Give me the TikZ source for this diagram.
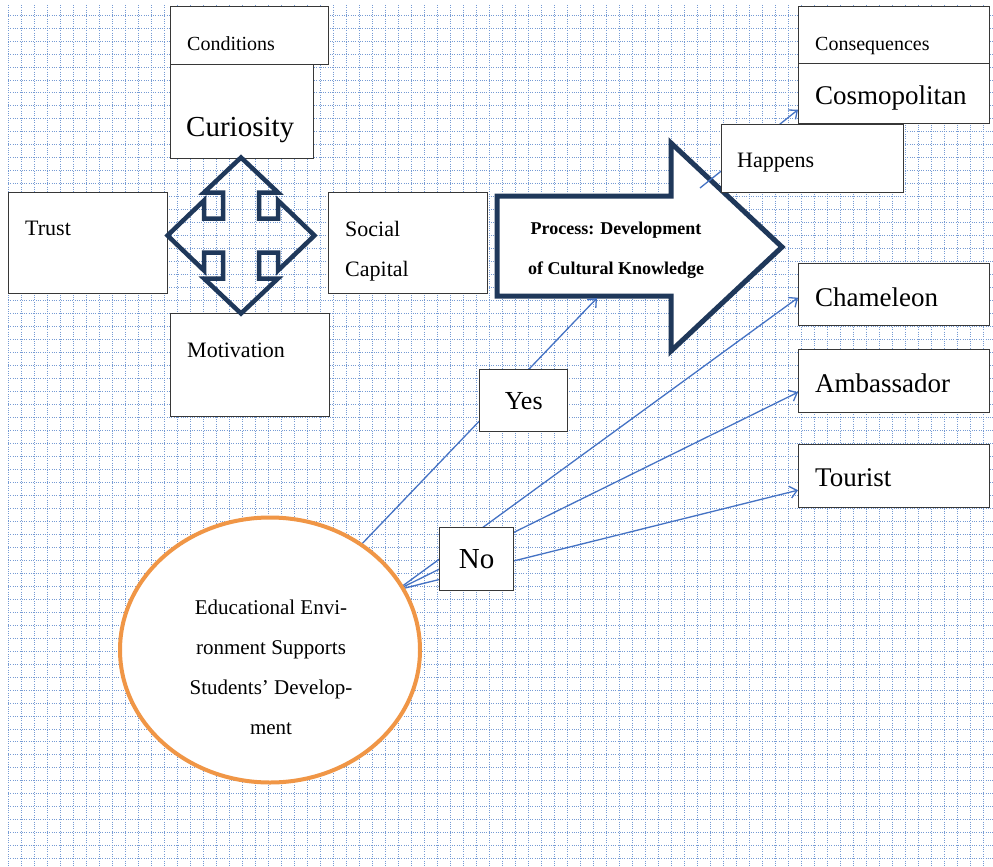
\documentclass[tikz,border=0pt]{standalone}
\usepackage{fontspec}
\setmainfont{Liberation Serif}
\usepackage{xcolor}
\definecolor{gridblue}{RGB}{118,155,212}
\definecolor{linkblue}{RGB}{68,114,196}
\definecolor{arrownavy}{RGB}{31,56,90}
\definecolor{envorange}{RGB}{240,150,70}
\definecolor{boxgray}{RGB}{55,55,55}
\usetikzlibrary{arrows.meta, positioning, shapes.geometric}

\tikzset{
  gridline/.style={gridblue, line width=0.8pt, dash pattern=on 0.9pt off 1.4pt},
  box/.style={draw=boxgray, line width=1.4pt, fill=white, rectangle, inner sep=0pt, anchor=north west},
  smalltxt/.style={anchor=west, inner sep=0pt, font=\fontsize{20}{24}\selectfont},
  midtxt/.style={anchor=west, inner sep=0pt, font=\fontsize{22}{40}\selectfont},
  bigtxt/.style={anchor=west, inner sep=0pt, font=\fontsize{27}{32}\selectfont},
  link/.style={linkblue, line width=1.3pt, -{Straight Barb[length=7pt,width=12pt]}},
  quadarrow/.style={draw=arrownavy, line width=4.5pt, line join=miter},
  bigarrow/.style={draw=arrownavy, line width=5pt, fill=white, line join=miter},
}

\begin{document}
\begin{tikzpicture}[x=1pt, y=-1pt]
  \useasboundingbox (0,0) rectangle (993,867);
  \fill[white] (0,0) rectangle (993,867);
  % grid paper
  \foreach \i in {0,...,75}
    \draw[gridline] ({8.3+13*\i},5) -- ({8.3+13*\i},867);
  \foreach \j in {0,...,65}
    \draw[gridline] (8,{15+12.98*\j}) -- (993,{15+12.98*\j});

  % conditions
  \node[box, minimum width=158pt, minimum height=58pt] (conditions) at (170,6) {};
  \node[box, minimum width=143pt, minimum height=94pt] (curiosity) at (170,64) {};
  \node[box, minimum width=159pt, minimum height=101pt] (trust) at (8,192) {};
  \node[box, minimum width=159pt, minimum height=101pt] (social) at (328,192) {};
  \node[box, minimum width=159pt, minimum height=103pt] (motivation) at (170,313) {};
  \node[smalltxt] (conditions-t) at (187,44) {Conditions};
  \node[bigtxt, font=\fontsize{29}{34}\selectfont] (curiosity-t) at (186,130) {Curiosity};
  \node[midtxt] (trust-t) at (25,228) {Trust};
  \node[midtxt, align=left] (social-t) at (345,251) {Social\\Capital};
  \node[midtxt] (motivation-t) at (187,350) {Motivation};

  \draw[quadarrow, shift={(241,235.5)}]
    (0,-78) -- (37,-43) -- (18,-43) -- (18,-17) -- (37,-17) -- (37,-35)
    -- (73.5,0) -- (37,35) -- (37,17) -- (18,17) -- (18,43) -- (37,43)
    -- (0,78) -- (-37,43) -- (-18,43) -- (-18,17) -- (-37,17) -- (-37,35)
    -- (-73.5,0) -- (-37,-35) -- (-37,-17) -- (-18,-17) -- (-18,-43) -- (-37,-43) -- cycle;

  % process
  \draw[bigarrow] (497,196) -- (671,196) -- (671,143) -- (782,247)
    -- (671,351) -- (671,296) -- (497,296) -- cycle;
  \node[font=\bfseries\fontsize{18}{40}\selectfont, align=center] (process-t) at (616,250)
    {Process: Development\\of Cultural Knowledge};

  % consequences
  \node[box, minimum width=191pt, minimum height=57pt] (consequences) at (798,6) {};
  \node[box, minimum width=191pt, minimum height=60pt] (cosmo) at (798,63) {};
  \node[box, minimum width=191pt, minimum height=62pt] (chameleon) at (798,263) {};
  \node[box, minimum width=191pt, minimum height=63pt] (ambassador) at (798,349) {};
  \node[box, minimum width=191pt, minimum height=63pt] (tourist) at (798,444) {};
  \node[smalltxt] (consequences-t) at (815,46) {Consequences};
  \node[bigtxt] (cosmo-t) at (815,98) {Cosmopolitan};
  \node[bigtxt] (chameleon-t) at (815,297) {Chameleon};
  \node[bigtxt] (ambassador-t) at (815,383) {Ambassador};
  \node[bigtxt] (tourist-t) at (815,478) {Tourist};

  % links
  \coordinate (yes-from) at (358,548);
  \coordinate (no-from) at (397,590);
  \coordinate (process-in) at (597,298);
  \coordinate (happens-from) at (700,188);
  \draw[link] (yes-from) -- (process-in);
  \draw[link] (no-from) -- ([yshift=-3pt]chameleon.west);
  \draw[link] (no-from) -- ([yshift=-11pt]ambassador.west);
  \draw[link] (no-from) -- ([yshift=-14pt]tourist.west);
  \draw[link] (happens-from) -- ([yshift=-16pt]cosmo.west);

  \node[box, minimum width=182pt, minimum height=68pt] (happens) at (721,124) {};
  \node[midtxt] (happens-t) at (737,163) {Happens};
  \node[box, minimum width=88pt, minimum height=62pt, font=\fontsize{26}{30}\selectfont] (yes) at (479,369) {Yes};
  \node[box, minimum width=74pt, minimum height=63pt, font=\fontsize{29}{34}\selectfont] (no) at (439,527) {No};

  % environment
  \node[ellipse, draw=envorange, line width=4pt, fill=white, minimum width=300pt, minimum height=265pt] (env) at (270,650) {};
  \node[font=\fontsize{21}{40}\selectfont, align=center] (env-t) at (271,667)
    {Educational Envi-\\ronment Supports\\Students’ Develop-\\ment};
\end{tikzpicture}
\end{document}
